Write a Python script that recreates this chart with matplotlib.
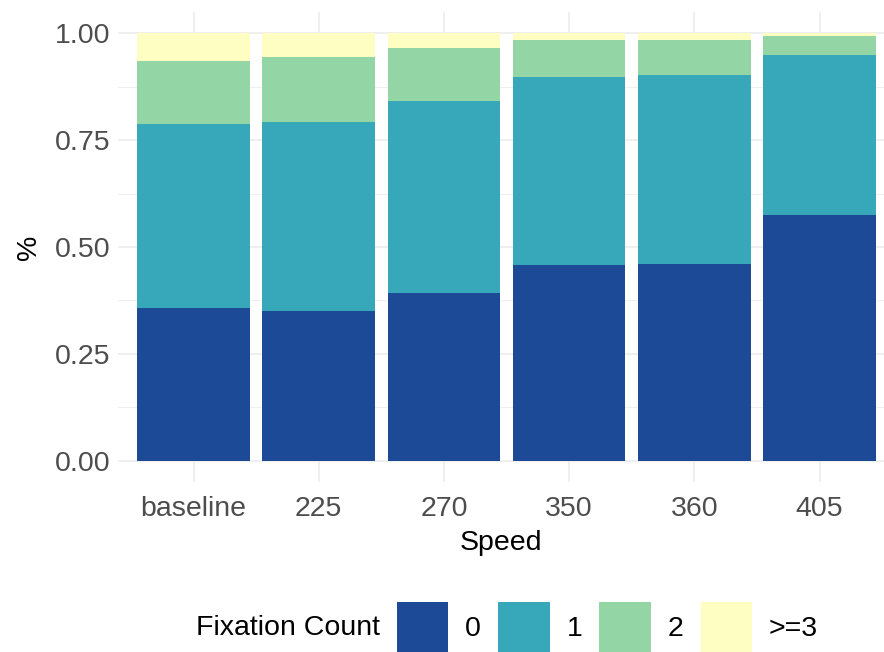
import numpy as np
import matplotlib
matplotlib.use("Agg")
import matplotlib.pyplot as plt
from matplotlib.ticker import FixedLocator

plt.rcParams['font.family'] = ['Liberation Sans', 'DejaVu Sans']

# Share of trials per fixation count
speeds = ['baseline', '225', '270', '350', '360', '405']
count_labels = ['0', '1', '2', '>=3']
share_0 = [0.358, 0.350, 0.393, 0.457, 0.461, 0.574]
share_1 = [0.429, 0.443, 0.448, 0.440, 0.441, 0.375]
share_2 = [0.148, 0.151, 0.124, 0.088, 0.083, 0.046]
share_3 = [0.065, 0.056, 0.035, 0.015, 0.015, 0.005]
colors = ['#1C4A96', '#37A8B9', '#94D5A5', '#FEFEC3']

fig = plt.figure(figsize=(8.84, 6.52), dpi=100)
ax = fig.add_axes([118.4 / 884, (652 - 482) / 652, 1 - 118.4 / 884, 470 / 652])

x = np.arange(1, len(speeds) + 1)
bottom = np.zeros(len(speeds))
handles = []
for vals, c, lab in zip([share_0, share_1, share_2, share_3], colors, count_labels):
    b = ax.bar(x, vals, width=0.9, bottom=bottom, color=c, label=lab, zorder=2)
    handles.append(b)
    bottom += np.array(vals)

ax.set_xlim(0.4, 6.515)
ax.set_ylim(-0.05, 1.05)
ax.set_xticks(x)
ax.set_xticklabels(speeds)
ax.set_yticks([0, 0.25, 0.5, 0.75, 1.0])
ax.set_yticklabels(['0.00', '0.25', '0.50', '0.75', '1.00'])
ax.yaxis.set_minor_locator(FixedLocator([0.125, 0.375, 0.625, 0.875]))

ax.grid(which='major', color='#EBEBEB', linewidth=1.1, zorder=0)
ax.grid(which='minor', axis='y', color='#EBEBEB', linewidth=0.55, zorder=0)
for s in ax.spines.values():
    s.set_visible(False)
ax.tick_params(which='both', length=0, labelsize=20.5, labelcolor='#4D4D4D')
ax.tick_params(axis='x', pad=10)
ax.tick_params(axis='y', pad=6)

ax.set_xlabel('Speed', fontsize=20.5, labelpad=6)
ax.set_ylabel('%', fontsize=20.5, labelpad=9)

fig.text(196 / 884, 1 - 628 / 652, 'Fixation Count', fontsize=20.5, va='center', ha='left')
fig.legend(handles=handles, labels=count_labels, loc='center left',
           bbox_to_anchor=(397 / 884, 1 - 627 / 652), ncol=4, frameon=False,
           fontsize=20.5, handlelength=1.8, handleheight=2.3,
           handletextpad=0.6, columnspacing=0.6, borderpad=0, borderaxespad=0)

fig.savefig('out.png', dpi=100)
